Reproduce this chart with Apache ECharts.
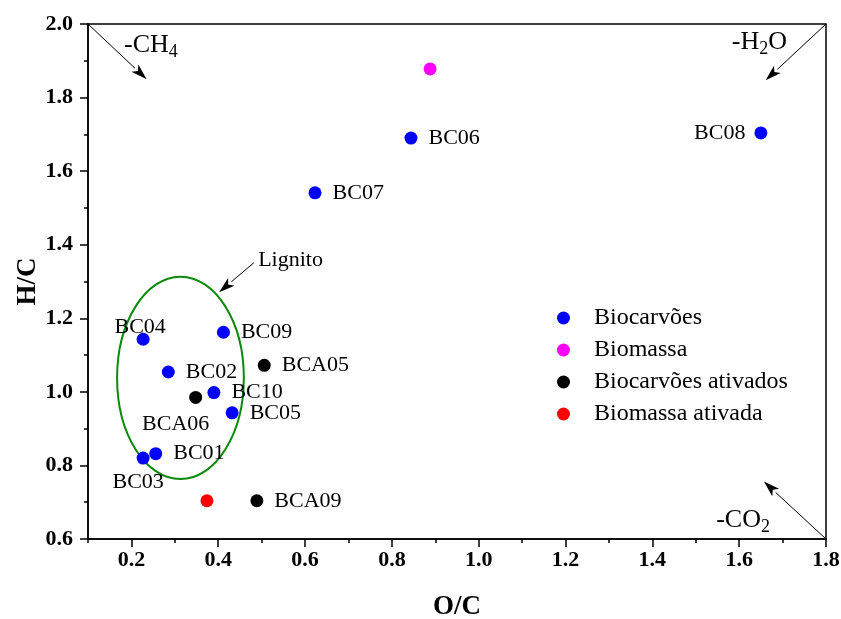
<!DOCTYPE html>
<html>
<head>
<meta charset="utf-8">
<script src="https://cdn.jsdelivr.net/npm/echarts@6/dist/echarts.min.js"></script>
<style>
  html, body { margin: 0; padding: 0; background: #fff; }
  #chart { width: 841px; height: 619px; }
</style>
</head>
<body>
<div id="chart"></div>
<script>
// Van Krevelen diagram: H/C versus O/C atomic ratios

const ocTicks = [0.2, 0.4, 0.6, 0.8, 1.0, 1.2, 1.4, 1.6, 1.8];
const ocMinorTicks = [0.1, 0.3, 0.5, 0.7, 0.9, 1.1, 1.3, 1.5, 1.7];
const hcTicks = [0.6, 0.8, 1.0, 1.2, 1.4, 1.6, 1.8, 2.0];

const biocarvoesNames = ['BC01', 'BC02', 'BC03', 'BC04', 'BC05', 'BC06', 'BC07', 'BC08', 'BC09', 'BC10'];
const biocarvoesOC = [0.256, 0.285, 0.227, 0.227, 0.432, 0.844, 0.623, 1.650, 0.412, 0.390];
const biocarvoesHC = [0.832, 1.054, 0.820, 1.143, 0.943, 1.690, 1.541, 1.704, 1.162, 0.998];

const biomassaOC = [0.888];
const biomassaHC = [1.878];

const ativadosNames = ['BCA05', 'BCA06', 'BCA09'];
const ativadosOC = [0.506, 0.348, 0.489];
const ativadosHC = [1.072, 0.985, 0.704];

const biomassaAtivadaOC = [0.374];
const biomassaAtivadaHC = [0.704];

// lignite region: centre (O/C, H/C) and semi-axes
const lignitoEllipse = [0.313, 1.038, 0.146, 0.275];

// reaction-path arrows: from [O/C, H/C] to [O/C, H/C]
const arrowPaths = [
  [0.10, 2.00, 0.235, 1.850],   // -CH4
  [1.80, 2.00, 1.661, 1.847],   // -H2O
  [1.80, 0.60, 1.657, 0.756],   // -CO2
  [0.482, 1.351, 0.402, 1.271]  // Lignito
];

const annotationTexts = ['-CH{s|4}', '-H{s|2}O', '-CO{s|2}', 'Lignito'];
const annotationOC = [0.183, 1.583, 1.547, 0.492];
const annotationHC = [1.942, 1.950, 0.650, 1.359];

const legendNames = ['Biocarvões', 'Biomassa', 'Biocarvões ativados', 'Biomassa ativada'];

const SERIF = '"Liberation Serif", "Times New Roman", Times, serif';

// label placement for points whose name is not to the right
const labelPlacement = {
  BC08: { position: 'left', distance: 9 },
  BC04: { position: 'top', distance: 0, offset: [-3, 5] },
  BCA06: { position: 'bottom', distance: 9, offset: [-20, 0] },
  BC03: { position: 'bottom', distance: 7, offset: [-5, 0] }
};

function pointItems(names, xs, ys) {
  return xs.map((x, i) => {
    const name = names ? names[i] : '';
    const item = { name: name, value: [x, ys[i]] };
    const place = labelPlacement[name] || { position: 'right', distance: 11 };
    item.label = Object.assign({ show: !!names }, place);
    return item;
  });
}

const pointLabel = {
  show: true,
  formatter: '{b}',
  color: '#000',
  fontFamily: SERIF,
  fontSize: 22
};

function scatterSeries(name, color, items) {
  return {
    name: name,
    type: 'scatter',
    symbol: 'circle',
    symbolSize: 13,
    itemStyle: { color: color, opacity: 1 },
    label: pointLabel,
    emphasis: { disabled: true },
    data: items,
    z: 5
  };
}

const chart = echarts.init(document.getElementById('chart'), null, { renderer: 'canvas' });

const option = {
  backgroundColor: '#fff',
  animation: false,
  grid: {
    left: 88, right: 15, top: 24, bottom: 80,
    outerBoundsMode: 'none',
    containLabel: false,
    show: true, borderColor: '#000', borderWidth: 1.5, backgroundColor: 'transparent'
  },
  legend: {
    orient: 'vertical',
    left: 552,
    top: 301,
    icon: 'circle',
    itemWidth: 13,
    itemHeight: 13,
    itemGap: 8,
    data: legendNames,
    textStyle: {
      fontFamily: SERIF, fontSize: 24, color: '#000', lineHeight: 24,
      padding: [0, 0, 0, 19]
    }
  },
  xAxis: [{
    type: 'value',
    min: 0.1, max: 1.8,
    position: 'bottom',
    name: 'O/C',
    nameLocation: 'middle',
    nameGap: 55,
    nameMoveOverlap: false,
    nameTextStyle: { fontFamily: SERIF, fontSize: 27, fontWeight: 'bold', color: '#000' },
    axisLine: { show: true, onZero: false, lineStyle: { color: '#000', width: 1.5 } },
    axisTick: { show: true, inside: false, length: 8, customValues: ocTicks, lineStyle: { color: '#000', width: 1.5 } },
    axisLabel: {
      customValues: ocTicks,
      formatter: v => v.toFixed(1),
      fontFamily: SERIF, fontSize: 22, fontWeight: 'bold', color: '#000', margin: 10
    },
    splitLine: { show: false }
  }, {
    type: 'value',
    min: 0.1, max: 1.8,
    position: 'bottom',
    axisLine: { show: false },
    axisTick: { show: true, inside: false, length: 4, customValues: ocMinorTicks, lineStyle: { color: '#000', width: 1.5 } },
    axisLabel: { show: false },
    splitLine: { show: false }
  }],
  yAxis: {
    type: 'value',
    min: 0.6, max: 2.0, interval: 0.2,
    name: 'H/C',
    nameLocation: 'middle',
    nameRotate: 90,
    nameGap: 46,
    nameMoveOverlap: false,
    nameTextStyle: { fontFamily: SERIF, fontSize: 27, fontWeight: 'bold', color: '#000' },
    axisLine: { show: true, onZero: false, lineStyle: { color: '#000', width: 1.5 } },
    axisTick: { show: true, inside: false, length: 8, customValues: hcTicks, lineStyle: { color: '#000', width: 1.5 } },
    minorTick: { show: true, splitNumber: 2, length: 4, lineStyle: { color: '#000', width: 1.5 } },
    axisLabel: {
      customValues: hcTicks,
      formatter: v => v.toFixed(1),
      fontFamily: SERIF, fontSize: 22, fontWeight: 'bold', color: '#000', margin: 15
    },
    splitLine: { show: false },
    minorSplitLine: { show: false }
  },
  series: [
    scatterSeries(legendNames[0], '#0000ff', pointItems(biocarvoesNames, biocarvoesOC, biocarvoesHC)),
    scatterSeries(legendNames[1], '#ff00ff', pointItems(null, biomassaOC, biomassaHC)),
    scatterSeries(legendNames[2], '#000000', pointItems(ativadosNames, ativadosOC, ativadosHC)),
    scatterSeries(legendNames[3], '#ff0000', pointItems(null, biomassaAtivadaOC, biomassaAtivadaHC)),
    {
      // lignite region outline
      type: 'custom',
      silent: true,
      clip: false,
      data: [lignitoEllipse],
      renderItem: function (params, api) {
        const c = api.coord([api.value(0), api.value(1)]);
        const s = api.size([api.value(2), api.value(3)]);
        return {
          type: 'ellipse',
          shape: { cx: c[0], cy: c[1], rx: s[0], ry: s[1] },
          style: { fill: 'none', stroke: '#0a8a0a', lineWidth: 2 }
        };
      },
      z: 3
    },
    {
      // reaction-path arrows
      type: 'custom',
      silent: true,
      clip: false,
      data: arrowPaths,
      renderItem: function (params, api) {
        const a = api.coord([api.value(0), api.value(1)]);
        const b = api.coord([api.value(2), api.value(3)]);
        const dx = b[0] - a[0], dy = b[1] - a[1];
        const len = Math.sqrt(dx * dx + dy * dy);
        const ux = dx / len, uy = dy / len;
        const headLen = 16, headHalf = 5;
        const bx = b[0] - ux * headLen, by = b[1] - uy * headLen;
        return {
          type: 'group',
          children: [{
            type: 'line',
            shape: { x1: a[0], y1: a[1], x2: bx, y2: by },
            style: { stroke: '#000', lineWidth: 1 }
          }, {
            type: 'polygon',
            shape: {
              points: [
                [b[0], b[1]],
                [bx - uy * headHalf, by + ux * headHalf],
                [b[0] - ux * headLen * 0.75, b[1] - uy * headLen * 0.75],
                [bx + uy * headHalf, by - ux * headHalf]
              ]
            },
            style: { fill: '#000' }
          }]
        };
      },
      z: 4
    },
    {
      // reaction-path and region annotations
      type: 'scatter',
      silent: true,
      symbolSize: 0,
      itemStyle: { opacity: 1 },
      data: annotationOC.map((x, i) => ({ name: annotationTexts[i], value: [x, annotationHC[i]] })),
      label: {
        show: true,
        position: [0, 0],
        align: 'left',
        verticalAlign: 'middle',
        formatter: '{b}',
        fontFamily: SERIF,
        fontSize: 26,
        color: '#000',
        rich: {
          s: { fontFamily: SERIF, fontSize: 18, color: '#000', padding: [14, 0, 0, 0] }
        }
      },
      emphasis: { disabled: true },
      z: 6
    }
  ]
};

// "Lignito" uses a smaller type than the reaction labels
option.series[6].data[3].label = { fontSize: 22 };

chart.setOption(option);
</script>
</body>
</html>
